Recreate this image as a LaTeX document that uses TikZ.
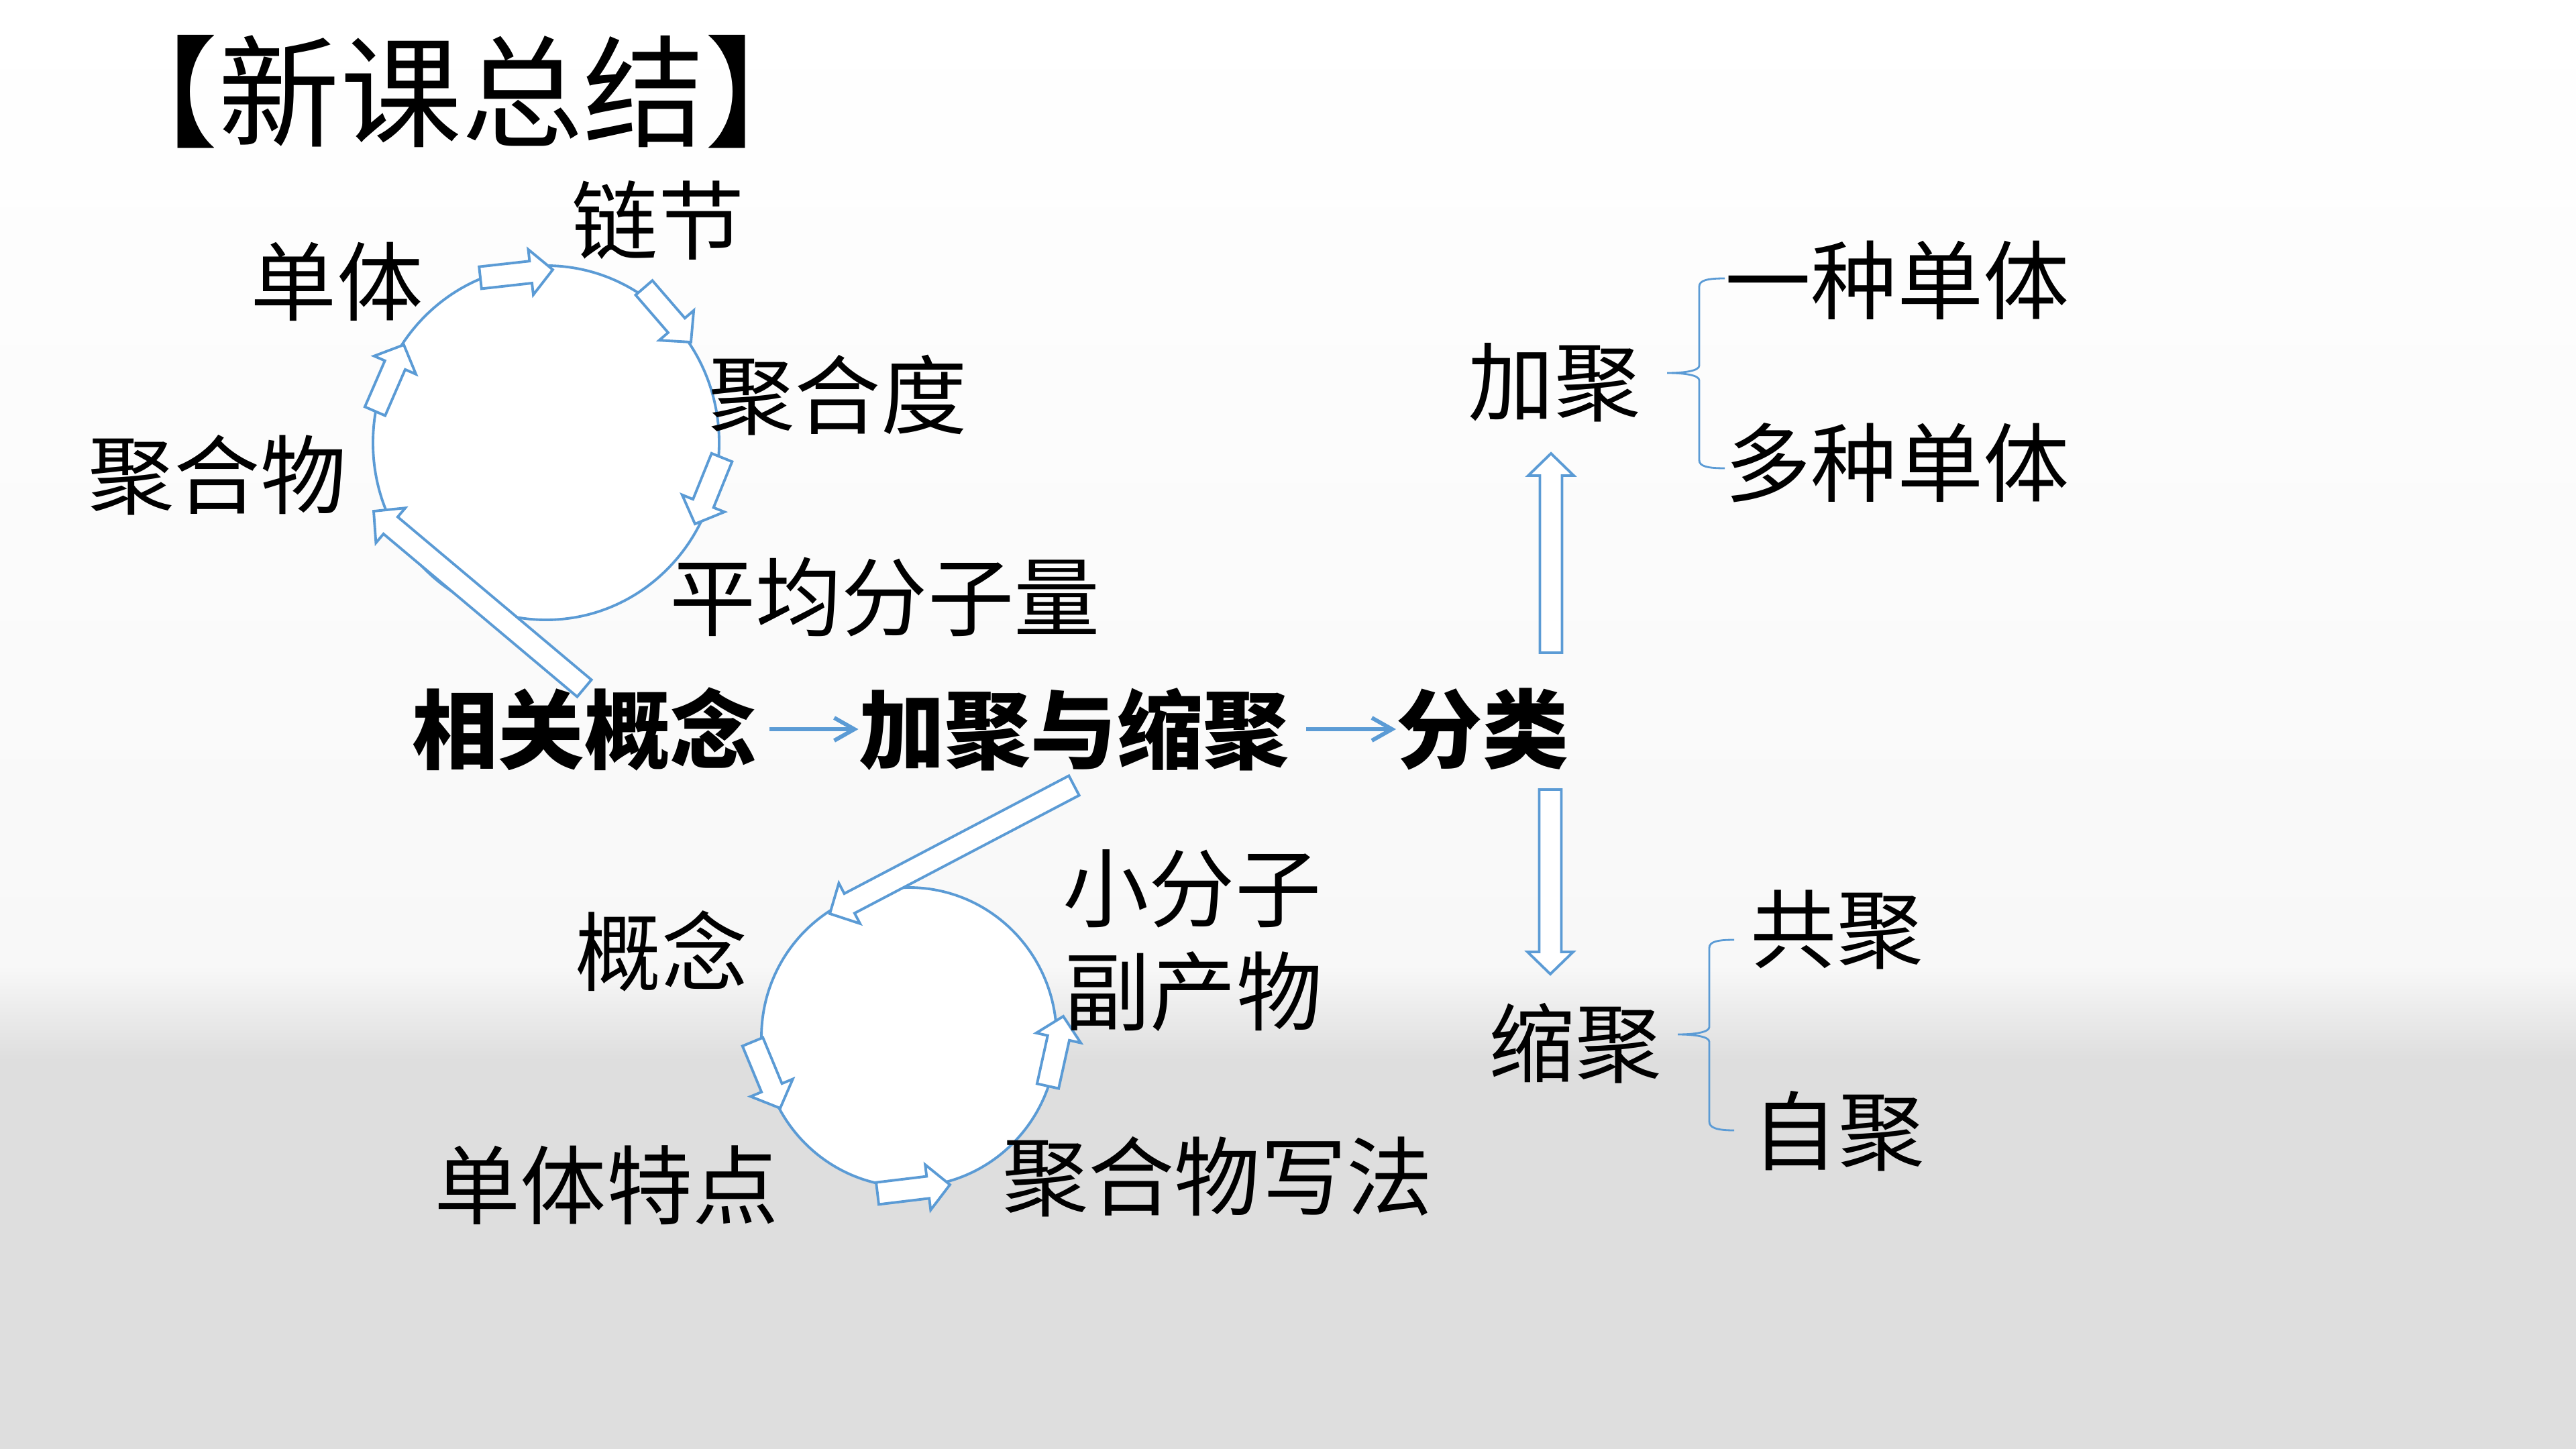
\documentclass[tikz,border=0pt]{standalone}
\usepackage{fontspec}
\setmainfont{Noto Sans CJK SC}
\usetikzlibrary{calc,arrows.meta,shapes.geometric}
\definecolor{linkblue}{HTML}{5B9BD5}
\definecolor{bgmid}{HTML}{F8F8F8}
\definecolor{bglow}{HTML}{DEDEDE}
% hollow block arrow from #1 to #2
\newcommand\blockarrow[2]{%
  \coordinate (ba-h) at ($(#2)!0.33cm!(#1)$);
  \draw[blockarr] ($(#1)!0.165cm!90:(#2)$) -- ($(ba-h)!0.165cm!-90:(#1)$)
    -- ($(ba-h)!0.34cm!-90:(#1)$) -- (#2) -- ($(ba-h)!0.34cm!90:(#1)$)
    -- ($(ba-h)!0.165cm!90:(#1)$) -- ($(#1)!0.165cm!-90:(#2)$) -- cycle;
}
\begin{document}
\begin{tikzpicture}[
    lbl/.style={inner sep=0pt, font=\fontsize{36.5}{40}\selectfont},
    key/.style={inner sep=0pt, font=\fontsize{36.5}{40}\selectfont\bfseries},
    blockarr/.style={draw=linkblue, fill=white, line width=1.1pt, line join=miter},
    flow/.style={draw=linkblue, line width=1.7pt, -{Straight Barb[length=0.3cm,width=0.34cm]}},
    ring/.style={draw=linkblue, fill=white, line width=1.1pt, ellipse, inner sep=0pt},
    curl/.style={draw=linkblue, line width=0.8pt}]
    \useasboundingbox (0,0) rectangle (38.4,-21.6);
    % background
    \shade[top color=white, bottom color=bgmid] (0,0) rectangle (38.4,-14.4);
    \shade[top color=bgmid, bottom color=bglow] (0,-14.4) rectangle (38.4,-15.8);
    \fill[bglow] (0,-15.8) rectangle (38.4,-21.6);

    \node[name=title, inner sep=0pt, font=\fontsize{51.5}{54}\selectfont] at (6.88,-1.37) {【新课总结】};

    % the two rings
    \node[name=tc, ring, minimum width=5.16cm, minimum height=5.28cm] at (8.14,-6.60) {};
    \node[name=bc, ring, minimum width=4.40cm, minimum height=4.46cm] at (13.55,-15.46) {};

    % arrows round the upper ring
    \coordinate (t1a) at (7.16,-4.14);  \coordinate (t1b) at (8.24,-4.02);
    \coordinate (t2a) at (9.60,-4.29);  \coordinate (t2b) at (10.30,-5.10);
    \coordinate (t3a) at (10.76,-6.82); \coordinate (t3b) at (10.36,-7.81);
    \coordinate (t4a) at (5.59,-6.13);  \coordinate (t4b) at (6.02,-5.14);
    \blockarrow{t1a}{t1b}
    \blockarrow{t2a}{t2b}
    \blockarrow{t3a}{t3b}
    \blockarrow{t4a}{t4b}
    % arrows round the lower ring
    \coordinate (b1a) at (11.22,-15.53); \coordinate (b1b) at (11.63,-16.52);
    \coordinate (b2a) at (13.08,-17.79); \coordinate (b2b) at (14.16,-17.66);
    \coordinate (b3a) at (15.62,-16.19); \coordinate (b3b) at (15.85,-15.15);
    \blockarrow{b1a}{b1b}
    \blockarrow{b2a}{b2b}
    \blockarrow{b3a}{b3b}

    % middle row
    \node[name=xg, key] at (8.71,-10.87) {相关概念};
    \node[name=jj, key] at (16.01,-10.87) {加聚与缩聚};
    \node[name=fl, key] at (22.10,-10.87) {分类};
    \draw[flow] ([xshift=0.19cm]xg.east) -- (jj.west);
    \draw[flow] ([xshift=0.25cm]jj.east) -- (fl.west);

    % long arrows to the rings
    \coordinate (ga) at (8.71,-10.26);  \coordinate (gb) at (5.57,-7.62);
    \coordinate (ha) at (16.01,-11.71); \coordinate (hb) at (12.37,-13.62);
    \blockarrow{ga}{gb}
    \blockarrow{ha}{hb}
    % up and down from 分类
    \coordinate (ua) at (23.12,-9.73);  \coordinate (ub) at (23.12,-6.76);
    \coordinate (da) at (23.11,-11.77); \coordinate (db) at (23.11,-14.52);
    \blockarrow{ua}{ub}
    \blockarrow{da}{db}

    % labels of the upper ring
    \node[name=dt, lbl] at (5.02,-4.20) {单体};
    \node[name=lj, lbl] at (9.81,-3.28) {链节};
    \node[name=jhd, lbl] at (12.49,-5.89) {聚合度};
    \node[name=jhw, lbl] at (3.24,-7.08) {聚合物};
    \node[name=pj, lbl] at (13.19,-8.90) {平均分子量};
    % labels of the lower ring
    \node[name=gn, lbl] at (9.86,-14.18) {概念};
    \node[name=xfz, lbl] at (17.77,-13.25) {小分子};
    \node[name=fcw, lbl] at (17.79,-14.78) {副产物};
    \node[name=dttd, lbl] at (9.04,-17.67) {单体特点};
    \node[name=xf, lbl] at (18.15,-17.54) {聚合物写法};

    % right side
    \node[name=jiaju, lbl] at (23.17,-5.70) {加聚};
    \node[name=yz, lbl] at (28.28,-4.18) {一种单体};
    \node[name=dz, lbl] at (28.28,-6.90) {多种单体};
    \node[name=suoju, lbl] at (23.48,-15.55) {缩聚};
    \node[name=gj, lbl] at (27.38,-13.86) {共聚};
    \node[name=zj, lbl] at (27.40,-16.86) {自聚};

    % braces
    \draw[curl] (25.71,-4.15) .. controls (25.45,-4.15) and (25.33,-4.18) .. (25.33,-4.27)
        -- (25.33,-5.45) .. controls (25.33,-5.53) and (25.10,-5.56) .. (24.85,-5.56)
        .. controls (25.10,-5.56) and (25.33,-5.59) .. (25.33,-5.67)
        -- (25.33,-6.86) .. controls (25.33,-6.95) and (25.45,-6.98) .. (25.71,-6.98);
    \draw[curl] (25.85,-14.01) .. controls (25.59,-14.01) and (25.48,-14.04) .. (25.48,-14.13)
        -- (25.48,-15.31) .. controls (25.48,-15.39) and (25.25,-15.42) .. (25.01,-15.42)
        .. controls (25.25,-15.42) and (25.48,-15.45) .. (25.48,-15.53)
        -- (25.48,-16.72) .. controls (25.48,-16.81) and (25.59,-16.85) .. (25.85,-16.85);
\end{tikzpicture}
\end{document}
